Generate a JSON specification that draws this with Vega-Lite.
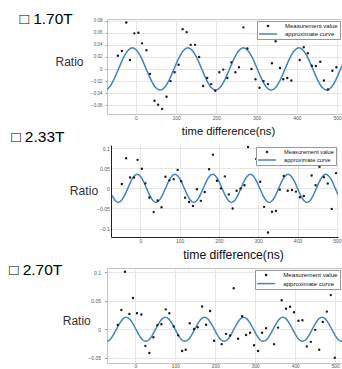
{
  "$schema": "https://vega.github.io/schema/vega-lite/v6.json",
  "padding": {"left": 8, "top": 11, "right": 0, "bottom": 0},
  "background": "white",
  "config": {"view": {"stroke": null}, "font": "Liberation Sans", "axis": {"labelFont": "Liberation Sans", "titleFont": "Liberation Sans", "labelFlush": false, "labelOverlap": false, "tickCount": 12}},
  "spacing": 31,
  "bounds": "flush",
  "center": true,
  "resolve": {"scale": {"color": "independent", "shape": "independent"}, "legend": {"color": "independent", "shape": "independent"}},
  "datasets": {
    "m1": [{"t":-45,"r":0.022},{"t":-35,"r":0.030},{"t":-24,"r":0.077},{"t":-15,"r":0.015},{"t":-4,"r":0.059},{"t":6,"r":0.060},{"t":15,"r":0.0425},{"t":26,"r":0.031},{"t":35,"r":-0.008},{"t":46,"r":-0.0525},{"t":55,"r":-0.059},{"t":65,"r":-0.066},{"t":76,"r":-0.046},{"t":86,"r":-0.020},{"t":96,"r":-0.0055},{"t":106,"r":0.007},{"t":116,"r":0.066},{"t":126,"r":0.061},{"t":136,"r":0.040},{"t":147,"r":0.040},{"t":157,"r":0.020},{"t":167,"r":-0.028},{"t":177,"r":-0.015},{"t":187,"r":-0.025},{"t":197,"r":-0.036},{"t":207,"r":-0.0055},{"t":217,"r":-0.001},{"t":227,"r":-0.015},{"t":237,"r":0.011},{"t":247,"r":-0.0055},{"t":256,"r":0.003},{"t":267,"r":0.069},{"t":277,"r":0.034},{"t":287,"r":0.0},{"t":297,"r":-0.017},{"t":307,"r":-0.031},{"t":317,"r":-0.020},{"t":328,"r":-0.025},{"t":338,"r":0.0094},{"t":347,"r":0.046},{"t":358,"r":0.0017},{"t":366,"r":-0.017},{"t":376,"r":-0.015},{"t":386,"r":-0.019},{"t":407,"r":0.015},{"t":417,"r":0.036},{"t":427,"r":0.026},{"t":437,"r":0.0055},{"t":447,"r":0.005},{"t":458,"r":0.012},{"t":467,"r":-0.019},{"t":477,"r":-0.034},{"t":488,"r":-0.003},{"t":498,"r":0.003}],
    "m2": [{"t":-47,"r":0.011},{"t":-36,"r":0.075},{"t":-26,"r":0.027},{"t":-16,"r":0.027},{"t":-7,"r":0.071},{"t":4,"r":0.049},{"t":13,"r":0.0125},{"t":23,"r":-0.0225},{"t":34,"r":-0.059},{"t":44,"r":-0.030},{"t":54,"r":-0.047},{"t":64,"r":0.029},{"t":74,"r":0.020},{"t":85,"r":0.023},{"t":95,"r":0.046},{"t":104,"r":0.018},{"t":114,"r":-0.023},{"t":124,"r":-0.034},{"t":134,"r":-0.044},{"t":144,"r":-0.002},{"t":154,"r":-0.031},{"t":164,"r":-0.009},{"t":175,"r":0.0475},{"t":185,"r":0.084},{"t":195,"r":0.019},{"t":205,"r":0.0},{"t":215,"r":0.030},{"t":225,"r":-0.015},{"t":235,"r":-0.050},{"t":245,"r":-0.006},{"t":255,"r":0.0},{"t":265,"r":0.008},{"t":274,"r":0.103},{"t":295,"r":0.073},{"t":305,"r":0.0165},{"t":315,"r":-0.046},{"t":325,"r":-0.11},{"t":335,"r":-0.058},{"t":345,"r":-0.056},{"t":355,"r":-0.003},{"t":365,"r":0.031},{"t":375,"r":-0.006},{"t":386,"r":-0.004},{"t":396,"r":-0.008},{"t":406,"r":-0.022},{"t":416,"r":-0.019},{"t":426,"r":0.063},{"t":436,"r":0.032},{"t":446,"r":0.008},{"t":456,"r":0.054},{"t":467,"r":0.028},{"t":477,"r":0.012},{"t":487,"r":-0.051},{"t":498,"r":0.038}],
    "m3": [{"t":-44,"r":0.0075},{"t":-35,"r":0.034},{"t":-26,"r":0.101},{"t":-15,"r":0.027},{"t":-6,"r":0.055},{"t":4,"r":0.028},{"t":15,"r":0.026},{"t":25,"r":-0.029},{"t":35,"r":-0.0416},{"t":45,"r":-0.014},{"t":55,"r":0.007},{"t":65,"r":0.009},{"t":76,"r":0.035},{"t":85,"r":0.028},{"t":96,"r":0.005},{"t":107,"r":-0.0105},{"t":117,"r":-0.038},{"t":126,"r":-0.036},{"t":136,"r":0.0105},{"t":147,"r":0.0005},{"t":156,"r":0.0035},{"t":167,"r":0.040},{"t":177,"r":0.008},{"t":187,"r":0.032},{"t":197,"r":-0.020},{"t":216,"r":-0.026},{"t":227,"r":-0.008},{"t":237,"r":-0.011},{"t":246,"r":0.072},{"t":257,"r":-0.0165},{"t":267,"r":0.023},{"t":277,"r":-0.010},{"t":287,"r":-0.006},{"t":297,"r":-0.028},{"t":307,"r":-0.038},{"t":317,"r":-0.006},{"t":327,"r":0.002},{"t":347,"r":-0.026},{"t":357,"r":0.003},{"t":366,"r":0.051},{"t":377,"r":0.036},{"t":387,"r":0.0395},{"t":397,"r":0.030},{"t":408,"r":0.015},{"t":418,"r":0.016},{"t":429,"r":-0.030},{"t":439,"r":-0.022},{"t":450,"r":-0.001},{"t":460,"r":-0.036},{"t":469,"r":0.013},{"t":479,"r":0.031},{"t":489,"r":0.060},{"t":499,"r":-0.050}],
    "c1": [{"t":-78,"r":-0.035},{"t":-66.5,"r":-0.0303},{"t":-55,"r":-0.0175},{"t":-43.5,"r":0},{"t":-32,"r":0.0175},{"t":-20.5,"r":0.0303},{"t":-9,"r":0.035},{"t":2.5,"r":0.0303},{"t":14,"r":0.0175},{"t":25.5,"r":0},{"t":37,"r":-0.0175},{"t":48.5,"r":-0.0303},{"t":60,"r":-0.035},{"t":71.5,"r":-0.0303},{"t":83,"r":-0.0175},{"t":94.5,"r":0},{"t":106,"r":0.0175},{"t":117.5,"r":0.0303},{"t":129,"r":0.035},{"t":140.5,"r":0.0303},{"t":152,"r":0.0175},{"t":163.5,"r":0},{"t":175,"r":-0.0175},{"t":186.5,"r":-0.0303},{"t":198,"r":-0.035},{"t":209.5,"r":-0.0303},{"t":221,"r":-0.0175},{"t":232.5,"r":0},{"t":244,"r":0.0175},{"t":255.5,"r":0.0303},{"t":267,"r":0.035},{"t":278.5,"r":0.0303},{"t":290,"r":0.0175},{"t":301.5,"r":0},{"t":313,"r":-0.0175},{"t":324.5,"r":-0.0303},{"t":336,"r":-0.035},{"t":347.5,"r":-0.0303},{"t":359,"r":-0.0175},{"t":370.5,"r":0},{"t":382,"r":0.0175},{"t":393.5,"r":0.0303},{"t":405,"r":0.035},{"t":416.5,"r":0.0303},{"t":428,"r":0.0175},{"t":439.5,"r":0},{"t":451,"r":-0.0175},{"t":462.5,"r":-0.0303},{"t":474,"r":-0.035},{"t":485.5,"r":-0.0303},{"t":497,"r":-0.0175},{"t":508.5,"r":0},{"t":520,"r":0.0175}],
    "c2": [{"t":-72,"r":-0.0175},{"t":-64,"r":-0.0303},{"t":-56,"r":-0.035},{"t":-48,"r":-0.0303},{"t":-40,"r":-0.0175},{"t":-32,"r":0},{"t":-24,"r":0.0175},{"t":-16,"r":0.0303},{"t":-8,"r":0.035},{"t":0,"r":0.0303},{"t":8,"r":0.0175},{"t":16,"r":0},{"t":24,"r":-0.0175},{"t":32,"r":-0.0303},{"t":40,"r":-0.035},{"t":48,"r":-0.0303},{"t":56,"r":-0.0175},{"t":64,"r":0},{"t":72,"r":0.0175},{"t":80,"r":0.0303},{"t":88,"r":0.035},{"t":96,"r":0.0303},{"t":104,"r":0.0175},{"t":112,"r":0},{"t":120,"r":-0.0175},{"t":128,"r":-0.0303},{"t":136,"r":-0.035},{"t":144,"r":-0.0303},{"t":152,"r":-0.0175},{"t":160,"r":0},{"t":168,"r":0.0175},{"t":176,"r":0.0303},{"t":184,"r":0.035},{"t":192,"r":0.0303},{"t":200,"r":0.0175},{"t":208,"r":0},{"t":216,"r":-0.0175},{"t":224,"r":-0.0303},{"t":232,"r":-0.035},{"t":240,"r":-0.0303},{"t":248,"r":-0.0175},{"t":256,"r":0},{"t":264,"r":0.0175},{"t":272,"r":0.0303},{"t":280,"r":0.035},{"t":288,"r":0.0303},{"t":296,"r":0.0175},{"t":304,"r":0},{"t":312,"r":-0.0175},{"t":320,"r":-0.0303},{"t":328,"r":-0.035},{"t":336,"r":-0.0303},{"t":344,"r":-0.0175},{"t":352,"r":0},{"t":360,"r":0.0175},{"t":368,"r":0.0303},{"t":376,"r":0.035},{"t":384,"r":0.0303},{"t":392,"r":0.0175},{"t":400,"r":0},{"t":408,"r":-0.0175},{"t":416,"r":-0.0303},{"t":424,"r":-0.035},{"t":432,"r":-0.0303},{"t":440,"r":-0.0175},{"t":448,"r":0},{"t":456,"r":0.0175},{"t":464,"r":0.0303},{"t":472,"r":0.035},{"t":480,"r":0.0303},{"t":488,"r":0.0175},{"t":496,"r":0},{"t":504,"r":-0.0175},{"t":512,"r":-0.0303}],
    "c3": [{"t":-72,"r":-0.021},{"t":-63.8,"r":-0.0182},{"t":-55.7,"r":-0.0105},{"t":-47.5,"r":0},{"t":-39.3,"r":0.0105},{"t":-31.2,"r":0.0182},{"t":-23,"r":0.021},{"t":-14.8,"r":0.0182},{"t":-6.7,"r":0.0105},{"t":1.5,"r":0},{"t":9.7,"r":-0.0105},{"t":17.8,"r":-0.0182},{"t":26,"r":-0.021},{"t":34.2,"r":-0.0182},{"t":42.3,"r":-0.0105},{"t":50.5,"r":0},{"t":58.7,"r":0.0105},{"t":66.8,"r":0.0182},{"t":75,"r":0.021},{"t":83.2,"r":0.0182},{"t":91.3,"r":0.0105},{"t":99.5,"r":0},{"t":107.7,"r":-0.0105},{"t":115.8,"r":-0.0182},{"t":124,"r":-0.021},{"t":132.2,"r":-0.0182},{"t":140.3,"r":-0.0105},{"t":148.5,"r":0},{"t":156.7,"r":0.0105},{"t":164.8,"r":0.0182},{"t":173,"r":0.021},{"t":181.2,"r":0.0182},{"t":189.3,"r":0.0105},{"t":197.5,"r":0},{"t":205.7,"r":-0.0105},{"t":213.8,"r":-0.0182},{"t":222,"r":-0.021},{"t":230.2,"r":-0.0182},{"t":238.3,"r":-0.0105},{"t":246.5,"r":0},{"t":254.7,"r":0.0105},{"t":262.8,"r":0.0182},{"t":271,"r":0.021},{"t":279.2,"r":0.0182},{"t":287.3,"r":0.0105},{"t":295.5,"r":0},{"t":303.7,"r":-0.0105},{"t":311.8,"r":-0.0182},{"t":320,"r":-0.021},{"t":328.2,"r":-0.0182},{"t":336.3,"r":-0.0105},{"t":344.5,"r":0},{"t":352.7,"r":0.0105},{"t":360.8,"r":0.0182},{"t":369,"r":0.021},{"t":377.2,"r":0.0182},{"t":385.3,"r":0.0105},{"t":393.5,"r":0},{"t":401.7,"r":-0.0105},{"t":409.8,"r":-0.0182},{"t":418,"r":-0.021},{"t":426.2,"r":-0.0182},{"t":434.3,"r":-0.0105},{"t":442.5,"r":0},{"t":450.7,"r":0.0105},{"t":458.8,"r":0.0182},{"t":467,"r":0.021},{"t":475.2,"r":0.0182},{"t":483.3,"r":0.0105},{"t":491.5,"r":0},{"t":499.7,"r":-0.0105},{"t":507.8,"r":-0.0182},{"t":516,"r":-0.021},{"t":524.2,"r":-0.0182}]
  },
  "vconcat": [
    {
      "width": 235, "height": 95,
      "view": {"stroke": "#c4c4c4", "strokeWidth": 1},
      "title": {"text": "□ 1.70T", "anchor": "start", "frame": "group", "orient": "top", "offset": 0, "dx": -87.5, "dy": 16.5, "baseline": "middle", "fontSize": 15.5, "font": "Liberation Sans, DejaVu Sans", "fontWeight": "normal", "color": "#000"},
      "layer": [
        {
          "data": {"name": "c1"},
          "mark": {"type": "line", "interpolate": "monotone", "clip": true, "color": "#4284c4", "strokeWidth": 1.5},
          "encoding": {
            "x": {"field": "t", "type": "quantitative", "scale": {"domain": [-72, 512], "nice": false, "zero": false},
                  "axis": {"values": [0,100,200,300,400,500], "tickCount": 12, "format": "d", "labelOverlap": false, "grid": true, "gridColor": "#e6e6e6", "domain": false, "ticks": false, "labelFontSize": 5, "labelColor": "#555", "labelPadding": 1.5, "title": "time difference(ns)", "titleFontSize": 11.3, "titleFontWeight": "normal", "titleColor": "#111", "titleX": 121, "titleY": 17, "titleAlign": "center", "titleBaseline": "middle"}},
            "y": {"field": "r", "type": "quantitative", "scale": {"domain": [-0.0745, 0.0828], "nice": false, "zero": false},
                  "axis": {"values": [-0.06,-0.04,-0.02,0,0.02,0.04,0.06,0.08], "tickCount": 12, "format": "~g", "labelOverlap": false, "grid": true, "gridColor": "#e6e6e6", "domain": false, "ticks": true, "tickSize": 2, "tickColor": "#999", "labelFontSize": 4.5, "labelColor": "#555", "labelPadding": 3, "title": "Ratio", "titleAngle": 0, "titleAlign": "right", "titleBaseline": "middle", "titleX": -24, "titleY": 42, "titleFontSize": 12, "titleFontWeight": "normal", "titleColor": "#333"}}
          }
        },
        {
          "data": {"name": "m1"},
          "mark": {"type": "point", "filled": false, "size": 20, "strokeWidth": 1.3, "opacity": 1},
          "encoding": {
            "x": {"field": "t", "type": "quantitative"},
            "y": {"field": "r", "type": "quantitative"},
            "color": {"datum": "Measurement value", "type": "nominal", "scale": {"domain": ["Measurement value", "approximate curve"], "range": ["#1a1a1a", "#4284c4"]},
                      "legend": {"orient": "top-right", "offset": 2, "title": null, "fillColor": "#fff", "strokeColor": "#999", "padding": 2, "labelFontSize": 6, "labelFont": "Liberation Sans", "labelColor": "#111", "labelOffset": 14, "symbolOffset": 6, "symbolSize": 20, "symbolStrokeWidth": 1.5, "rowPadding": 1}},
            "shape": {"datum": "Measurement value", "type": "nominal", "scale": {"domain": ["Measurement value", "approximate curve"], "range": ["M0.25,0A0.25,0.25,0,1,1,-0.25,0A0.25,0.25,0,1,1,0.25,0Z", "M-4,0H4"]},
                      "legend": {"orient": "top-right", "offset": 2, "title": null, "fillColor": "#fff", "strokeColor": "#999", "padding": 2, "labelFontSize": 6, "labelFont": "Liberation Sans", "labelColor": "#111", "labelOffset": 14, "symbolOffset": 6, "symbolSize": 20, "symbolStrokeWidth": 1.5, "rowPadding": 1}}
          }
        }
      ]
    },
    {
      "width": 227, "height": 92,
      "title": {"text": "□ 2.33T", "anchor": "start", "frame": "group", "orient": "top", "offset": 0, "dx": -99.8, "dy": 9, "baseline": "middle", "fontSize": 15.5, "font": "Liberation Sans, DejaVu Sans", "fontWeight": "normal", "color": "#000"},
      "layer": [
        {
          "data": {"name": "c2"},
          "mark": {"type": "line", "interpolate": "monotone", "clip": true, "color": "#4284c4", "strokeWidth": 1.5},
          "encoding": {
            "x": {"field": "t", "type": "quantitative", "scale": {"domain": [-74.6, 503], "nice": false, "zero": false},
                  "axis": {"values": [0,100,200,300,400,500], "tickCount": 12, "format": "d", "labelOverlap": false, "grid": true, "gridColor": "#e6e6e6", "domain": true, "domainColor": "#222", "ticks": false, "labelFontSize": 5, "labelColor": "#555", "labelPadding": 1.2, "title": "time difference(ns)", "titleFontSize": 12.2, "titleFontWeight": "normal", "titleColor": "#111", "titleX": 122, "titleY": 17, "titleAlign": "center", "titleBaseline": "middle"}},
            "y": {"field": "r", "type": "quantitative", "scale": {"domain": [-0.121, 0.108], "nice": false, "zero": false},
                  "axis": {"values": [-0.1,-0.05,0,0.05,0.1], "tickCount": 12, "format": "~g", "labelOverlap": false, "grid": true, "gridColor": "#e6e6e6", "domain": true, "domainColor": "#222", "ticks": false, "labelFontSize": 5, "labelColor": "#555", "labelPadding": 1.7, "title": "Ratio", "titleAngle": 0, "titleAlign": "right", "titleBaseline": "middle", "titleX": -13.3, "titleY": 45, "titleFontSize": 12.2, "titleFontWeight": "normal", "titleColor": "#333"}}
          }
        },
        {
          "data": {"name": "m2"},
          "mark": {"type": "point", "filled": false, "size": 20, "strokeWidth": 1.3, "opacity": 1},
          "encoding": {
            "x": {"field": "t", "type": "quantitative"},
            "y": {"field": "r", "type": "quantitative"},
            "color": {"datum": "Measurement value", "type": "nominal", "scale": {"domain": ["Measurement value", "approximate curve"], "range": ["#1a1a1a", "#4284c4"]},
                      "legend": {"orient": "top-right", "offset": 2, "title": null, "fillColor": "#fff", "strokeColor": "#999", "padding": 2, "labelFontSize": 5.7, "labelFont": "Liberation Sans", "labelColor": "#111", "labelOffset": 14, "symbolOffset": 6, "symbolSize": 20, "symbolStrokeWidth": 1.5, "rowPadding": 1}},
            "shape": {"datum": "Measurement value", "type": "nominal", "scale": {"domain": ["Measurement value", "approximate curve"], "range": ["M0.25,0A0.25,0.25,0,1,1,-0.25,0A0.25,0.25,0,1,1,0.25,0Z", "M-4,0H4"]},
                      "legend": {"orient": "top-right", "offset": 2, "title": null, "fillColor": "#fff", "strokeColor": "#999", "padding": 2, "labelFontSize": 5.7, "labelFont": "Liberation Sans", "labelColor": "#111", "labelOffset": 14, "symbolOffset": 6, "symbolSize": 20, "symbolStrokeWidth": 1.5, "rowPadding": 1}}
          }
        }
      ]
    },
    {
      "width": 235, "height": 95,
      "view": {"stroke": "#c4c4c4", "strokeWidth": 1},
      "title": {"text": "□ 2.70T", "anchor": "start", "frame": "group", "orient": "top", "offset": 0, "dx": -98, "dy": 17, "baseline": "middle", "fontSize": 15.5, "font": "Liberation Sans, DejaVu Sans", "fontWeight": "normal", "color": "#000"},
      "layer": [
        {
          "data": {"name": "c3"},
          "mark": {"type": "line", "interpolate": "monotone", "clip": true, "color": "#4284c4", "strokeWidth": 1.5},
          "encoding": {
            "x": {"field": "t", "type": "quantitative", "scale": {"domain": [-71, 517], "nice": false, "zero": false},
                  "axis": {"values": [0,100,200,300,400,500], "tickCount": 12, "format": "d", "labelOverlap": false, "grid": true, "gridColor": "#e6e6e6", "domain": false, "ticks": false, "labelFontSize": 4.8, "labelColor": "#555", "labelPadding": 0.5, "title": null}},
            "y": {"field": "r", "type": "quantitative", "scale": {"domain": [-0.0591, 0.1075], "nice": false, "zero": false},
                  "axis": {"values": [-0.05,0,0.05,0.1], "tickCount": 12, "format": "~g", "labelOverlap": false, "grid": true, "gridColor": "#e6e6e6", "domain": false, "ticks": true, "tickSize": 2.5, "tickColor": "#999", "labelFontSize": 5, "labelColor": "#555", "labelPadding": 4, "title": "Ratio", "titleAngle": 0, "titleAlign": "right", "titleBaseline": "middle", "titleX": -16.7, "titleY": 52, "titleFontSize": 12, "titleFontWeight": "normal", "titleColor": "#333"}}
          }
        },
        {
          "data": {"name": "m3"},
          "mark": {"type": "point", "filled": false, "size": 20, "strokeWidth": 1.3, "opacity": 1},
          "encoding": {
            "x": {"field": "t", "type": "quantitative"},
            "y": {"field": "r", "type": "quantitative"},
            "color": {"datum": "Measurement value", "type": "nominal", "scale": {"domain": ["Measurement value", "approximate curve"], "range": ["#1a1a1a", "#4284c4"]},
                      "legend": {"orient": "top-right", "offset": 2, "title": null, "fillColor": "#fff", "strokeColor": "#999", "padding": 2, "labelFontSize": 6.2, "labelFont": "Liberation Sans", "labelColor": "#111", "labelOffset": 14, "symbolOffset": 6, "symbolSize": 20, "symbolStrokeWidth": 1.5, "rowPadding": 1.5}},
            "shape": {"datum": "Measurement value", "type": "nominal", "scale": {"domain": ["Measurement value", "approximate curve"], "range": ["M0.25,0A0.25,0.25,0,1,1,-0.25,0A0.25,0.25,0,1,1,0.25,0Z", "M-4,0H4"]},
                      "legend": {"orient": "top-right", "offset": 2, "title": null, "fillColor": "#fff", "strokeColor": "#999", "padding": 2, "labelFontSize": 6.2, "labelFont": "Liberation Sans", "labelColor": "#111", "labelOffset": 14, "symbolOffset": 6, "symbolSize": 20, "symbolStrokeWidth": 1.5, "rowPadding": 1.5}}
          }
        }
      ]
    }
  ]
}
